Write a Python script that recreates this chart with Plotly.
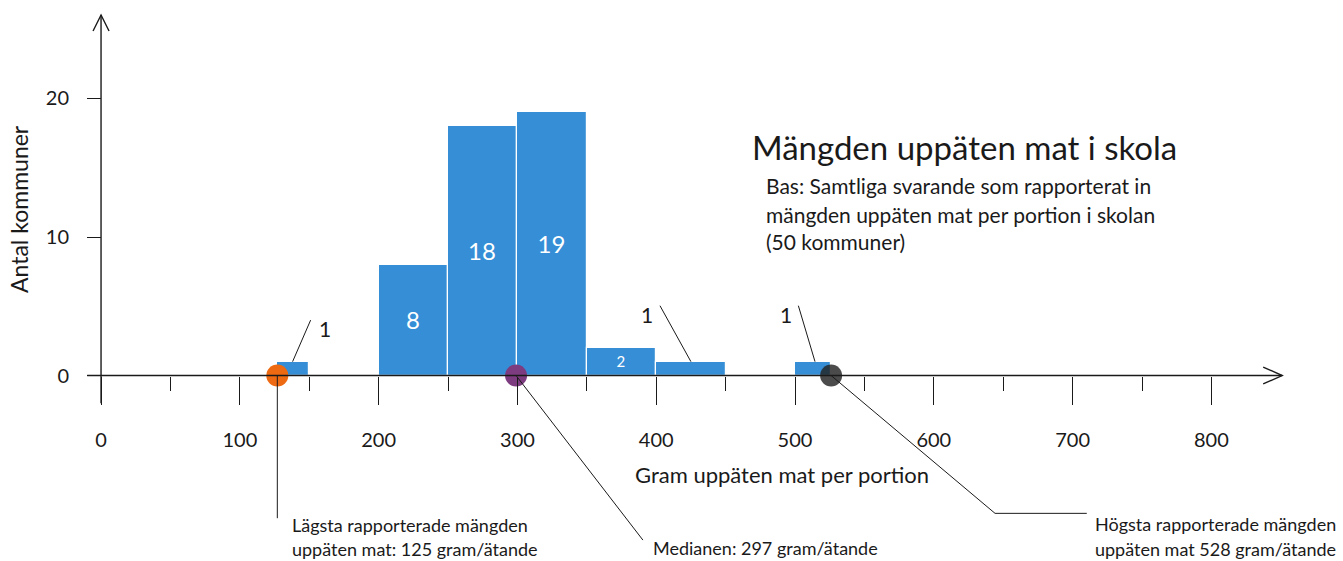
"""Histogram: Mängden uppäten mat i skola (gram per portion, 50 kommuner)."""

import plotly.graph_objects as go

# Bins (gram per portion) and number of kommuner in each
BIN_LEFT = [127, 200, 250, 300, 350, 400, 500]
BIN_RIGHT = [150, 250, 300, 350, 400, 450, 526]
COUNTS = [1, 8, 18, 19, 2, 1, 1]
INSIDE_TEXT = ["", "8", "18", "19", "2", "", ""]
INSIDE_SIZE = [20, 24, 24, 24, 15, 20, 20]

# Marker positions for lowest, median and highest reported amount
MARK_X = [127, 299, 526]
MARK_COLORS = ["#EE6A12", "#7D3C80", "rgba(35,35,35,0.82)"]

X_MAJOR = [0, 100, 200, 300, 400, 500, 600, 700, 800]
X_MINOR = [50, 150, 250, 350, 450, 550, 650, 750]
Y_TICKS = [0, 10, 20]

BLUE = "#358ED6"
INK = "#1a1a1a"
FONT = "Lato, Carlito, 'Open Sans', sans-serif"

X_RANGE = [-72.8, 894.8]
Y_RANGE = [-13.39, 27.11]

fig = go.Figure()

fig.add_trace(go.Bar(
    x=[(a + b) / 2 for a, b in zip(BIN_LEFT, BIN_RIGHT)],
    y=COUNTS,
    width=[b - a for a, b in zip(BIN_LEFT, BIN_RIGHT)],
    base=0,
    marker=dict(color=BLUE, line=dict(color="white", width=1.2)),
    text=INSIDE_TEXT, textposition="inside", insidetextanchor="middle",
    textfont=dict(color="white", size=INSIDE_SIZE, family=FONT),
    textangle=0, hoverinfo="skip", showlegend=False,
))

# Axis lines with open arrow heads
shapes = [
    dict(type="line", x0=0, y0=-2, x1=0, y1=26.03),
    dict(type="path", path="M -5.76 24.87 L 0 26.03 L 5.76 24.87"),
    dict(type="line", x0=-10, y0=0, x1=851, y1=0),
    dict(type="path", path="M 837.3 0.61 L 851 0 L 837.3 -0.61"),
]
for s in shapes:
    s.update(xref="x", yref="y", line=dict(color=INK, width=1.4), layer="above")
fig.update_layout(shapes=shapes)

# Leader lines from the small bars to their "1" labels
ONE_LEADERS = [  # (x at bar top, x top, y top, label x, label y)
    (138, 151, 4.0, 161.4, 3.43),
    (425, 402.7, 5.04, 393.2, 4.44),
    (514.4, 502.4, 5.04, 493.3, 4.44),
]
for bx, tx, ty, lx, ly in ONE_LEADERS:
    fig.add_shape(type="line", xref="x", yref="y", x0=bx, y0=1, x1=tx, y1=ty,
                  line=dict(color=INK, width=1))
    fig.add_annotation(x=lx, y=ly, xref="x", yref="y", text="1", showarrow=False,
                       font=dict(size=21, color=INK, family=FONT))

# Callout lines from the markers to the notes below the axis
fig.add_shape(type="line", xref="x", yref="y", x0=MARK_X[0], y0=0, x1=MARK_X[0], y1=-10.3,
              line=dict(color=INK, width=1))
fig.add_shape(type="line", xref="x", yref="y", x0=MARK_X[1], y0=0, x1=390.4, y1=-11.88,
              line=dict(color=INK, width=1))
fig.add_shape(type="path", xref="x", yref="y",
              path=f"M {MARK_X[2]} 0 L 644.1 -9.95 L 710.2 -9.95",
              line=dict(color=INK, width=1))

fig.add_trace(go.Scatter(
    x=MARK_X, y=[0, 0, 0], mode="markers",
    marker=dict(size=22, color=MARK_COLORS, line=dict(width=0)),
    cliponaxis=False, hoverinfo="skip", showlegend=False,
))


def note(x, y, text, size, anchor="left"):
    fig.add_annotation(x=x, y=y, xref="x", yref="y", text=text, showarrow=False,
                       xanchor=anchor, yanchor="middle",
                       font=dict(size=size, color=INK, family=FONT))


note(467.5, 16.5, "Mängden uppäten mat i skola", 33)
note(477.5, 13.75, "Bas: Samtliga svarande som rapporterat in", 21)
note(477.5, 11.66, "mängden uppäten mat per portion i skolan", 21)
note(477.5, 9.64, "(50 kommuner)", 21)
note(490.6, -7.18, "Gram uppäten mat per portion", 22, anchor="center")
note(136.2, -10.8, "Lägsta rapporterade mängden", 18)
note(136.2, -12.55, "uppäten mat: 125 gram/ätande", 18)
note(396.5, -12.42, "Medianen: 297 gram/ätande", 18)
note(715.0, -10.72, "Högsta rapporterade mängden", 18)
note(715.0, -12.5, "uppäten mat 528 gram/ätande", 18)
fig.add_annotation(x=-59.1, y=12.02, xref="x", yref="y", text="Antal kommuner",
                   textangle=-90, showarrow=False,
                   font=dict(size=23, color=INK, family=FONT))

x_pos = (0 - Y_RANGE[0]) / (Y_RANGE[1] - Y_RANGE[0])
y_pos = (0 - X_RANGE[0]) / (X_RANGE[1] - X_RANGE[0])

fig.update_layout(
    width=1343, height=561, autosize=False,
    margin=dict(l=0, r=0, t=0, b=0),
    paper_bgcolor="white", plot_bgcolor="white",
    font=dict(family=FONT, color=INK),
    xaxis=dict(
        range=X_RANGE, anchor="free", position=x_pos, showgrid=False, zeroline=False,
        showline=False, tickmode="array", tickvals=X_MAJOR, ticks="outside",
        ticklen=28, tickwidth=1.4, tickcolor=INK, ticklabelstandoff=18,
        tickfont=dict(size=20, color=INK, family=FONT),
        minor=dict(tickmode="array", tickvals=X_MINOR, ticks="outside", ticklen=14,
                   tickwidth=1.4, tickcolor=INK, showgrid=False),
    ),
    yaxis=dict(
        range=Y_RANGE, anchor="free", position=y_pos, showgrid=False, zeroline=False,
        showline=False, tickmode="array", tickvals=Y_TICKS, ticks="outside",
        ticklen=14, tickwidth=1.4, tickcolor=INK, ticklabelstandoff=14,
        tickfont=dict(size=20, color=INK, family=FONT),
    ),
    bargap=0,
)

fig.write_html("out.html", config={"displayModeBar": False},
               post_script="document.body.style.margin='0';")
